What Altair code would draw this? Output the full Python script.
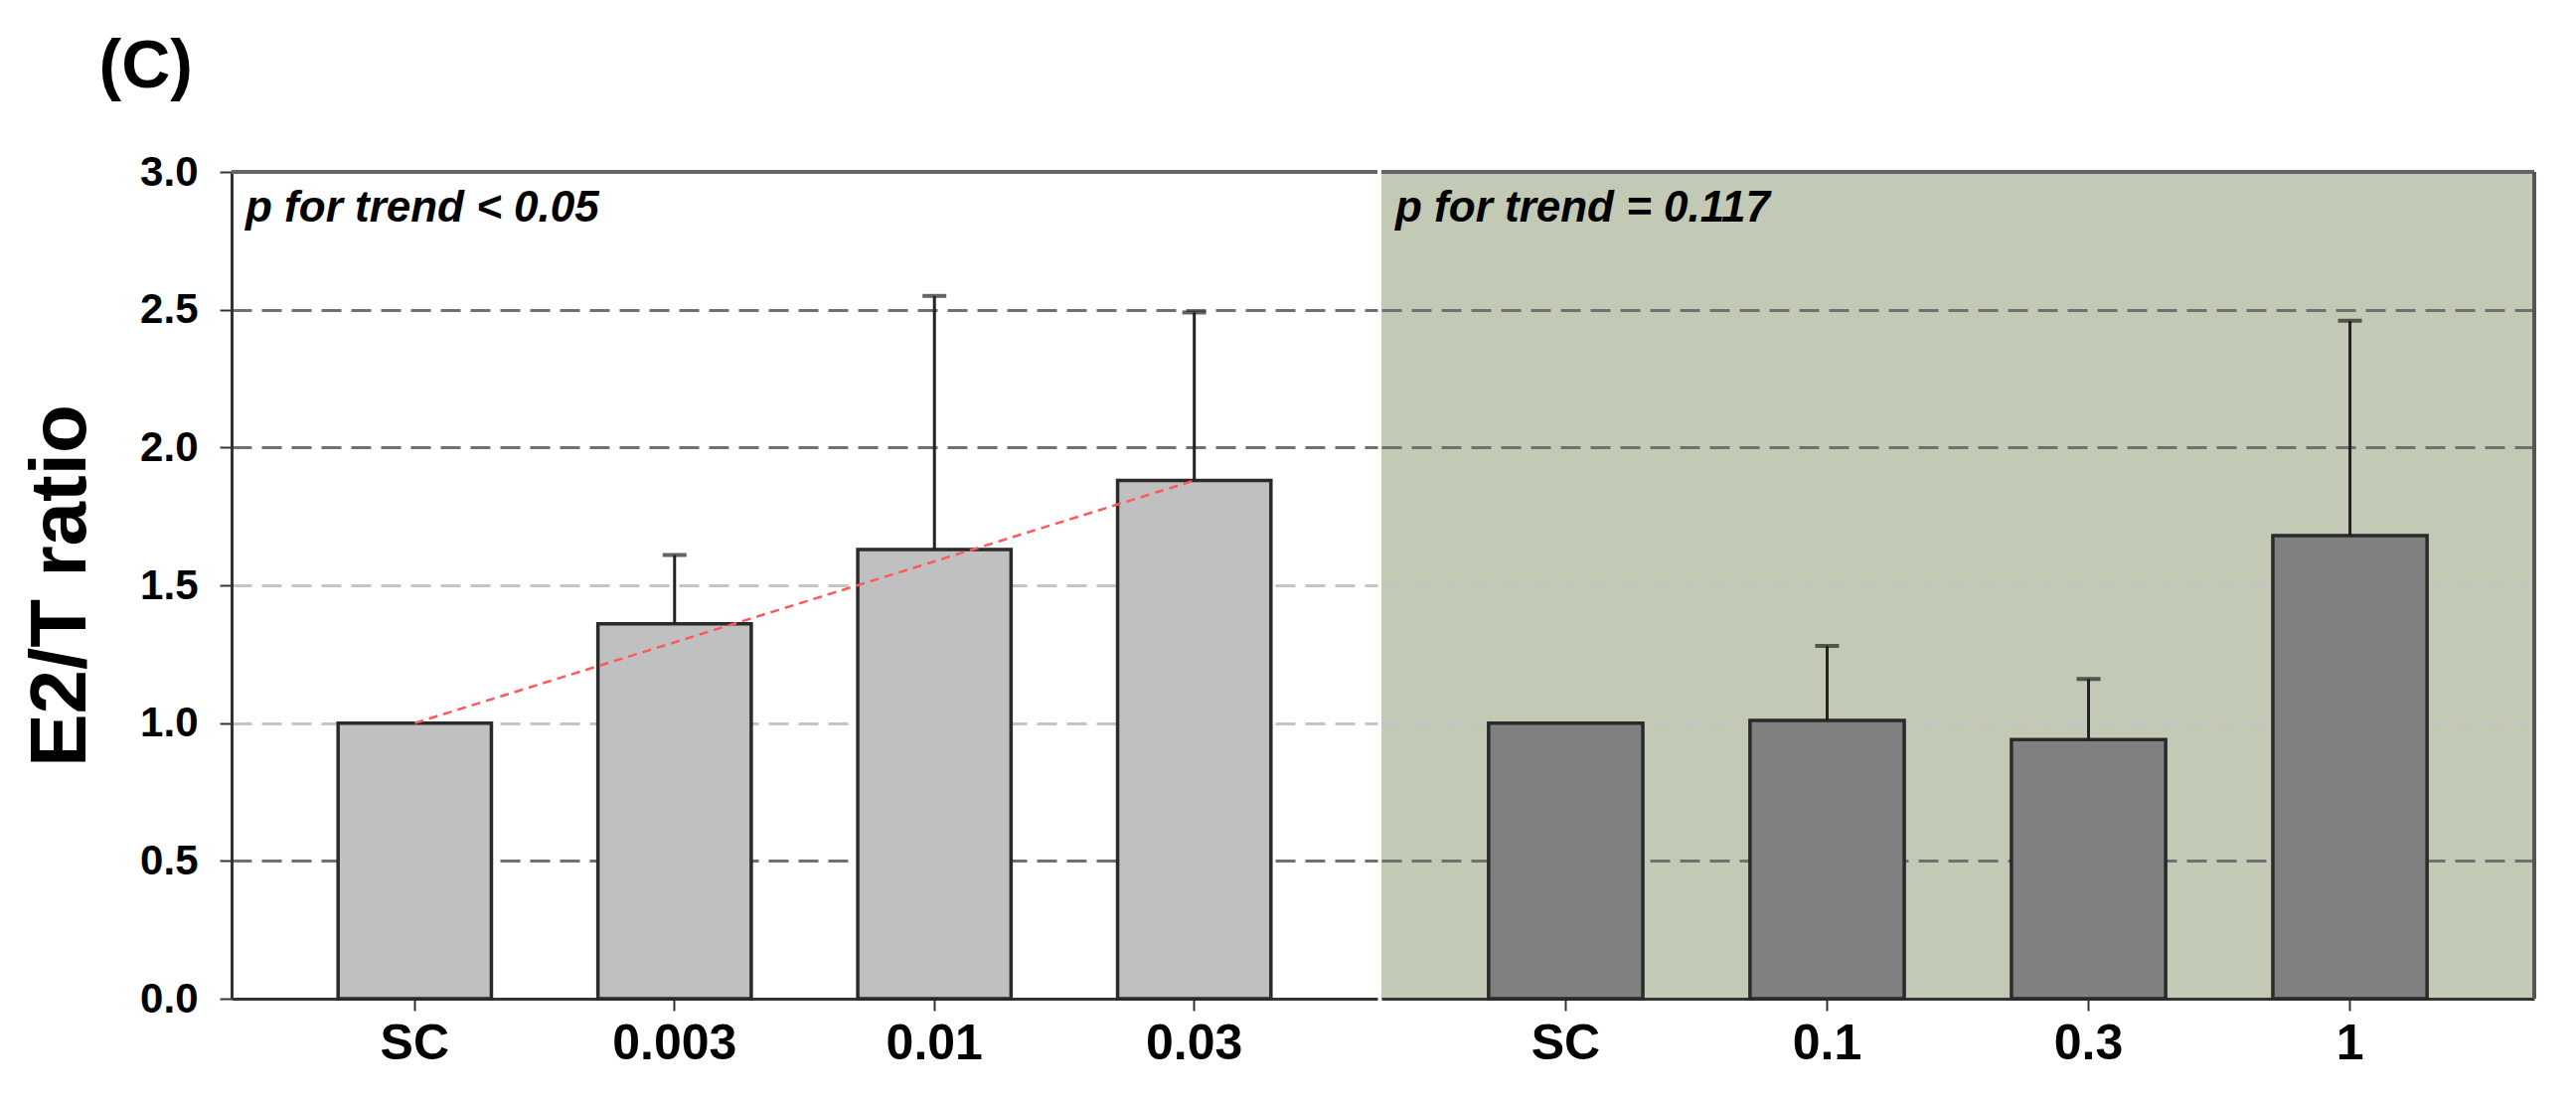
import altair as alt
import pandas as pd

FONT = "Liberation Sans"

# ---- data ----
left_cats = ["SC", "0.003", "0.01", "0.03"]
left_means = [1.00, 1.36, 1.63, 1.88]
left_err_top = [1.00, 1.61, 2.55, 2.49]

right_cats = ["SC", "0.1", "0.3", "1"]
right_means = [1.00, 1.01, 0.94, 1.68]
right_err_top = [1.00, 1.28, 1.16, 2.46]

trend_cats = ["SC", "0.03"]
trend_vals = [1.00, 1.88]

y_ticks = [0.0, 0.5, 1.0, 1.5, 2.0, 2.5, 3.0]

left_note = "p for trend < 0.05"
right_note = "p for trend = 0.117"

grid_color = {
    "condition": [
        {"test": "datum.value == 0 || datum.value == 3", "value": "transparent"},
        {"test": "datum.value == 1 || datum.value == 1.5", "value": "#c4c4c4"},
    ],
    "value": "#707070",
}


def panel(cats, means, errs, fill, bg, width, note, show_axis, trend=None, right_border=False):
    df = pd.DataFrame({"cat": cats, "mean": means, "err": errs})
    df_err = df[df["err"] > df["mean"] + 1e-9]

    x = alt.X(
        "cat:N",
        sort=cats,
        scale=alt.Scale(paddingInner=0.41, paddingOuter=0.41),
        axis=alt.Axis(
            title=None, labelAngle=0, labelFont=FONT, labelFontSize=50,
            labelFontWeight="bold", labelColor="black", tickColor="#333",
            tickSize=12, tickWidth=2, domainColor="#333", domainWidth=3,
            labelPadding=8, grid=False,
        ),
    )
    if show_axis:
        yaxis = alt.Axis(
            values=y_ticks, format=".1f", title="E2/T ratio",
            titleFont=FONT, titleFontSize=80, titleFontWeight="bold",
            titleColor="black", titlePadding=38,
            labelFont=FONT, labelFontSize=42, labelFontWeight="bold",
            labelColor="black", labelPadding=22, tickColor="#333",
            tickSize=12, tickWidth=2, domainColor="#333", domainWidth=3,
            grid=True, gridDash=[20, 10], gridWidth=3, gridColor=grid_color,
        )
    else:
        yaxis = alt.Axis(
            values=y_ticks, title=None, labels=False, ticks=False, domain=False,
            grid=True, gridDash=[20, 10], gridWidth=3, gridColor=grid_color,
        )
    y = alt.Y("mean:Q", scale=alt.Scale(domain=[0, 3], nice=False), axis=yaxis)

    bars = alt.Chart(df).mark_bar(fill=fill, stroke="#2a2a2a", strokeWidth=3.5).encode(x=x, y=y)
    rule = alt.Chart(df_err).mark_rule(color="#222", strokeWidth=3).encode(
        x=alt.X("cat:N", sort=cats), y="mean:Q", y2="err:Q"
    )
    cap = alt.Chart(df_err).mark_tick(color="#222", thickness=4, size=24).encode(
        x=alt.X("cat:N", sort=cats), y="err:Q"
    )
    top = alt.Chart(df.head(1)).mark_rule(color="#666", strokeWidth=4).encode(
        y=alt.value(0)
    )
    text = alt.Chart(pd.DataFrame({"t": [note]})).mark_text(
        align="left", baseline="alphabetic", font=FONT, fontSize=44,
        fontWeight="bold", fontStyle="italic", color="black",
    ).encode(text="t:N", x=alt.value(14), y=alt.value(50))

    layers = [bars, rule, cap]
    if trend is not None:
        tdf = pd.DataFrame({"cat": trend[0], "mean": trend[1]})
        layers.append(
            alt.Chart(tdf).mark_line(color="#ff5a5a", strokeWidth=2.5, strokeDash=[9, 6]).encode(
                x=alt.X("cat:N", sort=cats), y="mean:Q"
            )
        )
    layers += [top, text]
    if right_border:
        layers.append(
            alt.Chart(df.head(1)).mark_rule(color="#555", strokeWidth=4).encode(
                x=alt.value(width), y=alt.value(0), y2=alt.value(832)
            )
        )
    return alt.layer(*layers).properties(
        width=width, height=832,
        view=alt.ViewBackground(fill=bg, stroke=None),
    )


left = panel(left_cats, left_means, left_err_top, "#c0c0c0", "#ffffff", 1153,
             left_note, True, trend=(trend_cats, trend_vals))
right = panel(right_cats, right_means, right_err_top, "#808080", "#c2cab5", 1160,
              right_note, False, right_border=True)

chart = alt.hconcat(left, right, spacing=0).resolve_scale(x="independent").properties(
    title=alt.TitleParams(
        "(C)", anchor="start", font=FONT, fontSize=68, fontWeight="bold",
        color="black", dx=78, offset=50,
    ),
    padding={"left": 13, "top": 26, "right": 5, "bottom": 5},
).configure(background="white").configure_view(stroke=None)

chart.save("out.html", embed_options={"renderer": "svg", "actions": False})
